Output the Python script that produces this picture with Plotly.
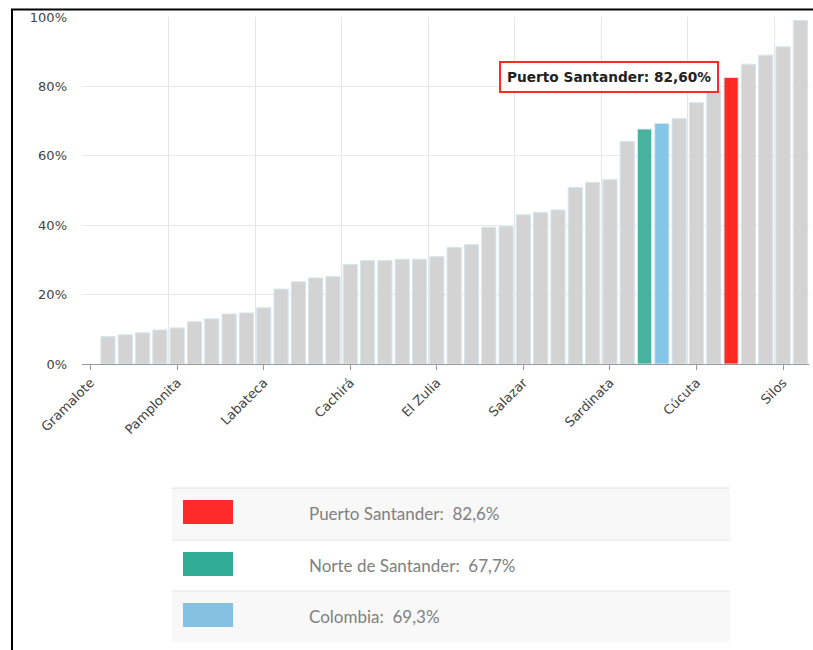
import plotly.graph_objects as go

# =========================
# DATA
# =========================
municipios = [
    "Gramalote", "Herrán", "Chitagá", "Mutiscua", "Cácota",
    "Pamplonita", "Santiago", "Los Patios", "Toledo", "Cucutilla",
    "Labateca", "Bucarasica", "Arboledas", "Durania", "Lourdes",
    "Cachirá", "Hacarí", "La Playa", "San Calixto", "Villa Caro",
    "El Zulia", "El Carmen", "Teorama", "Bochalema", "Ragonvalia",
    "Salazar", "La Esperanza", "Convención", "Chinácota", "El Tarra",
    "Sardinata", "Ábrego", "Norte de Santander", "Colombia", "Tibú",
    "Cúcuta", "San Cayetano", "Puerto Santander", "Ocaña", "Pamplona",
    "Silos", "Villa del Rosario",
]

# Gramalote has no data (no bar in the original)
cobertura = [
    None, 7.9, 8.4, 9.0, 9.8,
    10.4, 12.2, 13.0, 14.4, 14.7,
    16.2, 21.6, 23.7, 24.8, 25.2,
    28.7, 29.8, 29.8, 30.2, 30.2,
    30.9, 33.6, 34.4, 39.4, 39.7,
    43.0, 43.7, 44.4, 50.9, 52.3,
    53.1, 64.1, 67.7, 69.3, 70.7,
    75.3, 79.0, 82.6, 86.4, 89.0,
    91.4, 99.0,
]

destacados = ["Puerto Santander", "Norte de Santander", "Colombia"]
colores_destacados = ["#FF2A22", "#47B39F", "#85C5E6"]
colores_leyenda = ["#FF2B2B", "#31AD95", "#85C1E0"]

etiquetas_eje = [
    "Gramalote", "Pamplonita", "Labateca", "Cachirá", "El Zulia",
    "Salazar", "Sardinata", "Cúcuta", "Silos",
]

# =========================
# LAYOUT HELPERS
# =========================
W, H = 813, 650
ML, MR, MT, MB = 82, 4, 17, 286
PW = W - ML - MR
PH = H - MT - MB


def px_x(px):
    return (px - ML) / PW


def px_y(py):
    return (H - MB - py) / PH


posiciones = list(range(len(municipios)))

bar_colors = []
for nombre in municipios:
    if nombre in destacados:
        bar_colors.append(colores_destacados[destacados.index(nombre)])
    else:
        bar_colors.append("#D3D3D3")

fig = go.Figure()

fig.add_trace(
    go.Bar(
        x=posiciones,
        y=cobertura,
        hovertext=municipios,
        marker=dict(
            color=bar_colors,
            line=dict(color="#D5E6EE", width=1)
        ),
        width=0.82,
        showlegend=False,
    )
)

tick_pos = [municipios.index(n) for n in etiquetas_eje]

fig.update_xaxes(
    range=[-0.5, len(municipios) - 0.5],
    tickvals=tick_pos,
    ticktext=etiquetas_eje,
    tickangle=-45,
    ticks="outside",
    ticklen=5,
    tickcolor="#999999",
    showgrid=False,
    showline=True,
    linecolor="#999999",
    linewidth=1,
    zeroline=False,
    tickfont=dict(family="DejaVu Sans", size=13, color="#444444"),
    minor=dict(
        tickvals=[p - 0.5 for p in tick_pos],
        showgrid=True,
        gridcolor="#E6E6E6",
        gridwidth=1,
        ticklen=0,
    ),
)

fig.update_yaxes(
    range=[0, 100],
    dtick=20,
    ticksuffix="%",
    showgrid=True,
    gridcolor="#E8E8E8",
    zeroline=False,
    ticklabelstandoff=14,
    tickfont=dict(family="DejaVu Sans", size=13, color="#444444"),
)

# tooltip for the highlighted municipality
idx_ps = municipios.index(destacados[0])
fig.add_annotation(
    x=posiciones[idx_ps],
    y=cobertura[idx_ps],
    xref="x",
    yref="y",
    text="<b>%s: %s%%</b>" % (
        destacados[0],
        ("%.2f" % cobertura[idx_ps]).replace(".", ",")
    ),
    showarrow=False,
    xanchor="right",
    yanchor="middle",
    xshift=-12,
    bgcolor="#FFFFFF",
    bordercolor="#FF2A22",
    borderwidth=2,
    borderpad=6,
    font=dict(family="DejaVu Sans", size=13.7, color="#222222"),
)

# custom legend table below the chart
shapes = []
row_top = [488, 540, 591]
row_h = 51
for i, nombre in enumerate(destacados):
    top = row_top[i]
    bg = "#F8F8F8" if i != 1 else "#FFFFFF"
    shapes.append(dict(
        type="rect", xref="paper", yref="paper",
        x0=px_x(172), x1=px_x(730), y0=px_y(top + row_h), y1=px_y(top),
        fillcolor=bg, line=dict(width=0), layer="below",
    ))
    shapes.append(dict(
        type="line", xref="paper", yref="paper",
        x0=px_x(172), x1=px_x(730), y0=px_y(top), y1=px_y(top),
        line=dict(color="#E2E2E2", width=1),
    ))
    shapes.append(dict(
        type="rect", xref="paper", yref="paper",
        x0=px_x(183), x1=px_x(233), y0=px_y(top + 36), y1=px_y(top + 12),
        fillcolor=colores_leyenda[i], line=dict(width=0),
    ))
    valor = cobertura[municipios.index(nombre)]
    fig.add_annotation(
        x=px_x(307), y=px_y(top + 25),
        xref="paper", yref="paper",
        text="%s:  %s%%" % (nombre, ("%.1f" % valor).replace(".", ",")),
        showarrow=False,
        xanchor="left", yanchor="middle",
        font=dict(family="Lato", size=17, color="#808080"),
    )

# outer frame
shapes.append(dict(
    type="rect", xref="paper", yref="paper",
    x0=px_x(12), x1=px_x(W + 20), y0=px_y(H + 20), y1=px_y(9.5),
    line=dict(color="#000000", width=2), fillcolor="rgba(0,0,0,0)",
))

fig.update_layout(
    width=W,
    height=H,
    margin=dict(l=ML, r=MR, t=MT, b=MB),
    paper_bgcolor="#FFFFFF",
    plot_bgcolor="#FFFFFF",
    shapes=shapes,
    bargap=0.18,
    font=dict(family="DejaVu Sans"),
)

fig.write_html(
    "out.html",
    config={"displayModeBar": False},
    post_script="document.body.style.margin='0';"
)
